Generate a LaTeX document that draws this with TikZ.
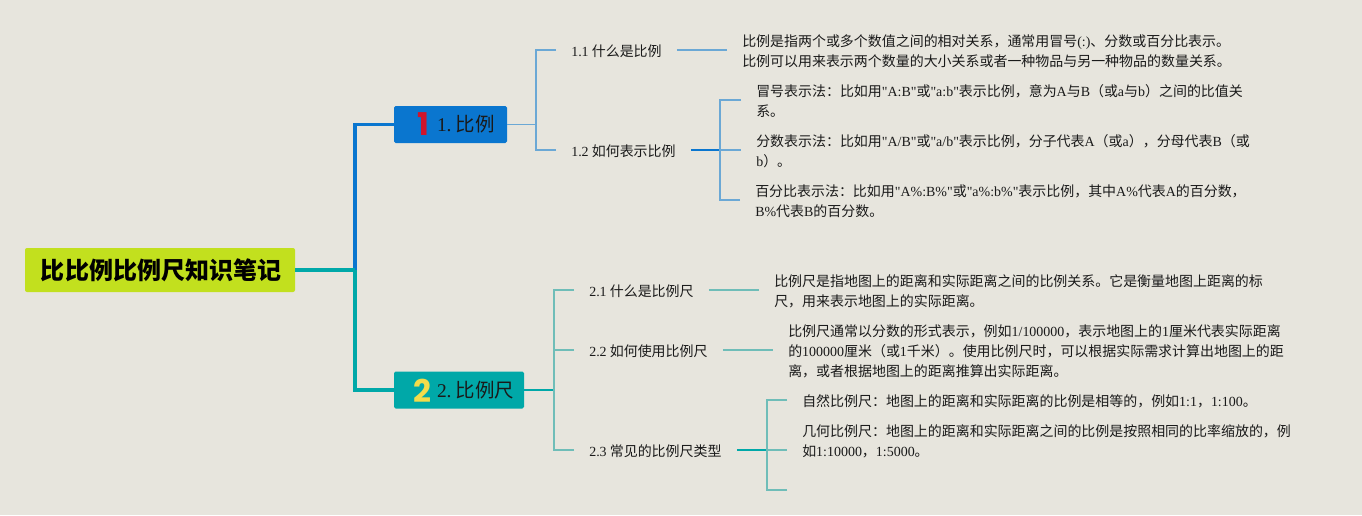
\documentclass[tikz,border=0pt]{standalone}
\usepackage{fontspec}
\setmainfont{Noto Sans CJK SC}
\newfontfamily\latfont{Liberation Serif}
\newfontfamily\iconfont{Poppins}
\newcommand{\lat}[1]{{\latfont #1}}
\definecolor{bgc}{HTML}{E7E5DD}
\definecolor{rootc}{HTML}{C2E01E}
\definecolor{blueA}{HTML}{0A76CF}
\definecolor{tealA}{HTML}{00A8A8}
\definecolor{blueB}{HTML}{6BA8D5}
\definecolor{tealB}{HTML}{6FBDB8}
\definecolor{redI}{HTML}{D0142C}
\definecolor{yelI}{HTML}{F2DC4A}
\definecolor{inkc}{HTML}{1A1A1A}
\tikzset{
  x=0.75pt,y=-0.75pt,
  up/.style={yshift=0.75pt},
  rootbox/.style={fill=rootc,rounded corners=1.5pt,minimum width=202.5pt,minimum height=33pt,inner sep=0pt,font=\fontsize{18}{22}\selectfont\bfseries,text=black},
  mainbox/.style={rounded corners=1.2pt,minimum height=27.75pt,inner sep=0pt,align=left,font=\fontsize{14.6}{16}\selectfont,text=inkc},
  iconnode/.style={inner sep=0pt,font=\fontsize{23.5}{28}\iconfont\bfseries\selectfont},
  lbl/.style={anchor=west,yshift=-0.75pt,inner xsep=11.25pt,inner ysep=1pt,font=\fontsize{10.47}{15}\selectfont,text=inkc,align=left},
  trunkB/.style={draw=blueA,line width=2.6pt},
  trunkT/.style={draw=tealA,line width=2.6pt},
  subB/.style={draw=blueB,line width=1.1pt},
  subT/.style={draw=tealB,line width=1.1pt},
  midB/.style={draw=blueA,line width=1.4pt},
  midT/.style={draw=tealA,line width=1.4pt},
}
\begin{document}
\begin{tikzpicture}
\fill[bgc] (0,0) rectangle (1362,515);
\useasboundingbox (0,0) rectangle (1362,515);

\node[rootbox] (root) at (160,270) {\raisebox{-0.75pt}{\hspace{1.5pt}比比例比例尺知识笔记}};
\node[mainbox,fill=blueA,text width=84.75pt] (b1) at (450.5,124.5) {\raisebox{-2.2pt}{\hspace*{32.25pt}\lat{1.}\hspace{3pt}比例}};
\node[mainbox,fill=tealA,text width=97.5pt] (b2) at (459,390) {\raisebox{-2.2pt}{\hspace*{32.25pt}\lat{2.}\hspace{3pt}比例尺}};
\node[iconnode,text=redI] (ic1) at (423,124) {1};
\node[iconnode,text=yelI] (ic2) at (422,391) {2};

\coordinate (t0) at (355,270);
\draw[trunkB] (t0) |- (b1.west);
\draw[trunkT] (t0) |- (b2.west);
\draw[trunkT] (root.east) -- (t0);

% branch 1
\node[lbl] (l11) at (556,50) {\lat{1.1} 什么是比例};
\node[lbl] (l12) at (556,150) {\lat{1.2} 如何表示比例};
\node[lbl] (d11) at (727,50) {比例是指两个或多个数值之间的相对关系，通常用冒号\lat{(:)}、分数或百分比表示。\\比例可以用来表示两个数量的大小关系或者一种物品与另一种物品的数量关系。};
\node[lbl] (d121) at (741,100) {冒号表示法：比如用\lat{"A:B"}或\lat{"a:b"}表示比例，意为\lat{A}与\lat{B}（或\lat{a}与\lat{b}）之间的比值关\\系。};
\node[lbl] (d122) at (741,150) {分数表示法：比如用\lat{"A/B"}或\lat{"a/b"}表示比例，分子代表\lat{A}（或\lat{a}），分母代表\lat{B}（或\\\lat{b}）。};
\node[lbl] (d123) at (740,200) {百分比表示法：比如用\lat{"A\%:B\%"}或\lat{"a\%:b\%"}表示比例，其中\lat{A\%}代表\lat{A}的百分数，\\\lat{B\%}代表\lat{B}的百分数。};
\coordinate (j1) at (536,125);
\coordinate (j12) at (720,150);
\draw[subB] (b1.east) -- (b1.east -| j1);
\draw[subB] ([up]l11.west) -| (j1);
\draw[subB] ([up]l12.west) -| (j1);
\draw[subB] ([up]l11.east) -- ([up]d11.west);
\draw[midB] ([up]l12.east) -- (j12);
\draw[subB] ([up]d121.west) -| (j12);
\draw[subB] ([up]d123.west) -| (j12);
\draw[subB] (j12) -- ([up]d122.west);

% branch 2
\node[lbl] (l21) at (574,290) {\lat{2.1} 什么是比例尺};
\node[lbl] (l22) at (574,350) {\lat{2.2} 如何使用比例尺};
\node[lbl] (l23) at (574,450) {\lat{2.3} 常见的比例尺类型};
\node[lbl] (d21) at (759,290) {比例尺是指地图上的距离和实际距离之间的比例关系。它是衡量地图上距离的标\\尺，用来表示地图上的实际距离。};
\node[lbl] (d22) at (773,350) {比例尺通常以分数的形式表示，例如\lat{1/100000}，表示地图上的\lat{1}厘米代表实际距离\\的\lat{100000}厘米（或\lat{1}千米）。使用比例尺时，可以根据实际需求计算出地图上的距\\离，或者根据地图上的距离推算出实际距离。};
\node[lbl] (d231) at (787,400) {自然比例尺：地图上的距离和实际距离的比例是相等的，例如\lat{1:1}，\lat{1:100}。};
\node[lbl] (d232) at (787,440) {几何比例尺：地图上的距离和实际距离之间的比例是按照相同的比率缩放的，例\\如\lat{1:10000}，\lat{1:5000}。};
\coordinate (j2) at (554,390);
\coordinate (j23) at (767,450);
\coordinate (e232) at (787,450);
\coordinate (e233) at (787,490);
\draw[midT] (b2.east) -- (j2);
\draw[subT] ([up]l21.west) -| (j2);
\draw[subT] ([up]l22.west) -- ([up]l22.west -| j2);
\draw[subT] ([up]l23.west) -| (j2);
\draw[subT] ([up]l21.east) -- ([up]d21.west);
\draw[subT] ([up]l22.east) -- ([up]d22.west);
\draw[midT] ([up]l23.east) -- (j23);
\draw[subT] ([up]d231.west) -| (j23);
\draw[subT] (e233) -| (j23);
\draw[subT] (j23) -- (e232);
\end{tikzpicture}
\end{document}
